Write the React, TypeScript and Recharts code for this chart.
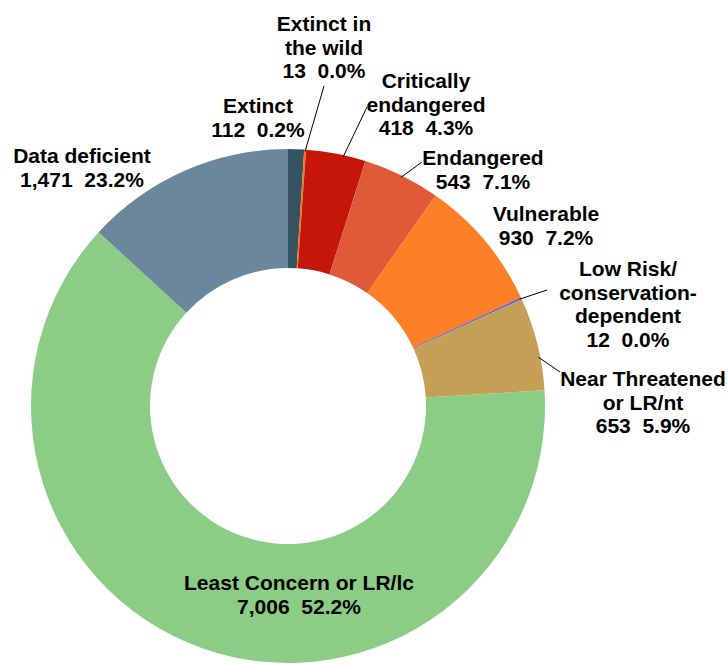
import React from 'react';
import { PieChart, Pie, Cell } from 'recharts';

// ─── Data ───────────────────────────────────────────────────────────────────
const categories = [
  'Extinct',
  'Extinct in the wild',
  'Critically endangered',
  'Endangered',
  'Vulnerable',
  'Low Risk/conservation-dependent',
  'Near Threatened or LR/nt',
  'Least Concern or LR/lc',
  'Data deficient',
];
const counts = [112, 13, 418, 543, 930, 12, 653, 7006, 1471];
const shares = ['0.2%', '0.0%', '4.3%', '7.1%', '7.2%', '0.0%', '5.9%', '52.2%', '23.2%'];
const labelText = [
  ['Extinct'],
  ['Extinct in', 'the wild'],
  ['Critically', 'endangered'],
  ['Endangered'],
  ['Vulnerable'],
  ['Low Risk/', 'conservation-', 'dependent'],
  ['Near Threatened', 'or LR/nt'],
  ['Least Concern or LR/lc'],
  ['Data deficient'],
];

// ─── Styling ────────────────────────────────────────────────────────────────
const colors = ['#34525f', '#f07a1a', '#c4170a', '#e05a3a', '#fe7f25', '#5558e8', '#c49f55', '#8ccd86', '#6a879b'];

// label block: centre x, first baseline y, optional leader line end (text side) and angle nudge
const labelLayout: { x: number; y: number; line?: [number, number]; nudge?: number }[] = [
  { x: 258, y: 113 },
  { x: 324, y: 31, line: [324, 86] },
  { x: 426, y: 88, line: [367, 107], nudge: -1.7 },
  { x: 483, y: 165, line: [422, 162] },
  { x: 546, y: 221 },
  { x: 628, y: 276, line: [547, 290] },
  { x: 643, y: 386, line: [560, 372], nudge: -3 },
  { x: 299, y: 590 },
  { x: 82, y: 163 },
];

const chartData = categories.map((name, i) => ({ name, value: counts[i] }));
const RAD = Math.PI / 180;
const LINE_H = 23.5;

const fmt = (n: number) => n.toLocaleString('en-US');

const renderLabel = (props: any) => {
  const { cx, cy, midAngle, outerRadius, index } = props;
  const lay = labelLayout[index];
  const lines = [...labelText[index], `${fmt(counts[index])}  ${shares[index]}`];
  let leader = null;
  if (lay.line) {
    const a = (midAngle + (lay.nudge || 0)) * RAD;
    const r = outerRadius - 2;
    const sx = cx + r * Math.cos(-a);
    const sy = cy + r * Math.sin(-a);
    leader = <line x1={sx} y1={sy} x2={lay.line[0]} y2={lay.line[1]} stroke="#000" strokeWidth={1} />;
  }
  return (
    <g key={`lbl-${index}`}>
      {leader}
      <text
        x={lay.x}
        y={lay.y}
        textAnchor="middle"
        fill="#000"
        fontFamily="'Liberation Sans', Arial, sans-serif"
        fontWeight="bold"
        fontSize={21}
        style={{ whiteSpace: 'pre' }}
      >
        {lines.map((ln, j) => (
          <tspan key={j} x={lay.x} y={lay.y + j * LINE_H}>
            {ln}
          </tspan>
        ))}
      </text>
    </g>
  );
};

export default function App() {
  return (
    <div style={{ width: 728, height: 664, background: '#fff' }}>
      <style>{'body{margin:0}'}</style>
      <PieChart width={728} height={664} margin={{ top: 0, right: 0, bottom: 0, left: 0 }}>
        <Pie
          data={chartData}
          dataKey="value"
          nameKey="name"
          cx={288}
          cy={406}
          innerRadius={138}
          outerRadius={257}
          startAngle={90}
          endAngle={-270}
          stroke="none"
          label={renderLabel}
          labelLine={false}
          isAnimationActive={false}
        >
          {chartData.map((d, i) => (
            <Cell key={d.name} fill={colors[i]} />
          ))}
        </Pie>
      </PieChart>
    </div>
  );
}
